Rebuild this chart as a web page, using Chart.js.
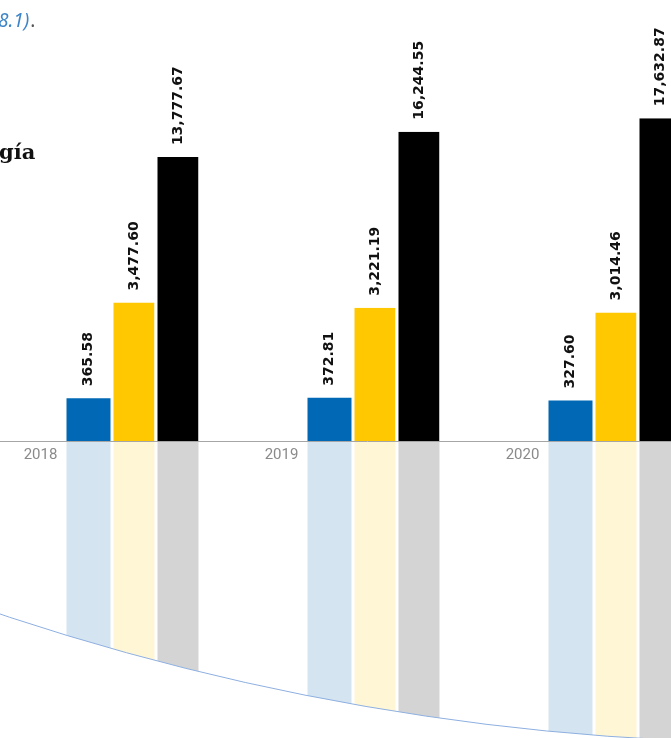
<!DOCTYPE html>
<html>
<head>
<meta charset="utf-8">
<script src="https://cdn.jsdelivr.net/npm/chart.js@4.4.1/dist/chart.umd.min.js"></script>
<style>
  html, body { margin: 0; padding: 0; background: #fff; overflow: hidden; }
  #wrap { position: relative; width: 735px; height: 738px; }
</style>
</head>
<body>
<div id="wrap"><canvas id="c" width="735" height="738"></canvas></div>
<script>
// ---- data ----
const years = ['2018', '2019', '2020'];
const seriesBlue   = [365.58, 372.81, 327.60];
const seriesYellow = [3477.60, 3221.19, 3014.46];
const seriesBlack  = [13777.67, 16244.55, 17632.87];

const barColors = ['#0068B4', '#FFC800', '#000000'];
const reflColors = ['#D5E4F1', '#FFF6D6', '#D4D4D4'];

// power (root) scale so large and small bars both remain visible
class PowerScale extends Chart.LinearScale {
  _f(v) { const e = this.options.exponent || 0.5; return Math.sign(v) * Math.pow(Math.abs(v), e); }
  getPixelForValue(value) {
    const d = (this._f(value) - this._f(this.min)) / (this._f(this.max) - this._f(this.min));
    return this.getPixelForDecimal(d);
  }
  getValueForPixel(pixel) {
    const e = this.options.exponent || 0.5;
    const d = this.getDecimalForPixel(pixel);
    const t = this._f(this.min) + d * (this._f(this.max) - this._f(this.min));
    return Math.sign(t) * Math.pow(Math.abs(t), 1 / e);
  }
}
PowerScale.id = 'power';
PowerScale.defaults = Chart.LinearScale.defaults;
Chart.register(PowerScale);

const fmt = v => v.toLocaleString('en-US', { minimumFractionDigits: 2, maximumFractionDigits: 2 });

// decorative "floor" circle that clips the reflections
const FLOOR = { cx: 791, cy: -1748, r: 2491 };

const decoPlugin = {
  id: 'deco',
  beforeDatasetsDraw(chart) {
    const ctx = chart.ctx;
    const H = chart.height;
    const base = chart.scales.y.getPixelForValue(0);
    ctx.save();
    ctx.beginPath();
    ctx.arc(FLOOR.cx, FLOOR.cy, FLOOR.r, 0, Math.PI * 2);
    ctx.clip();
    chart.data.datasets.forEach((ds, di) => {
      const meta = chart.getDatasetMeta(di);
      const lb = di === 0 ? 0 : 3;
      meta.data.forEach(el => {
        const l = el.x - el.width / 2 + lb;
        const r = el.x + el.width / 2;
        ctx.fillStyle = reflColors[di];
        ctx.fillRect(l, base + 1, r - l, H - base);
      });
    });
    ctx.restore();
    ctx.save();
    ctx.beginPath();
    ctx.arc(FLOOR.cx, FLOOR.cy, FLOOR.r, 0, Math.PI);
    ctx.strokeStyle = '#8DAFE0';
    ctx.lineWidth = 1;
    ctx.stroke();
    ctx.restore();
  },
  afterDatasetsDraw(chart) {
    const ctx = chart.ctx;
    const W = chart.width;
    const base = chart.scales.y.getPixelForValue(0);
    // baseline
    ctx.save();
    ctx.strokeStyle = '#A6A6A6';
    ctx.lineWidth = 1;
    ctx.beginPath();
    ctx.moveTo(0, Math.round(base) + 0.5);
    ctx.lineTo(W, Math.round(base) + 0.5);
    ctx.stroke();
    ctx.restore();
    // value labels
    ctx.save();
    ctx.font = 'bold 14px "DejaVu Sans", sans-serif';
    ctx.fillStyle = '#111';
    ctx.textAlign = 'left';
    ctx.textBaseline = 'middle';
    chart.data.datasets.forEach((ds, di) => {
      const meta = chart.getDatasetMeta(di);
      const lb = di === 0 ? 0 : 3;
      meta.data.forEach((el, i) => {
        const cx = el.x + lb / 2;
        ctx.save();
        ctx.translate(cx, el.y - 12);
        ctx.rotate(-Math.PI / 2);
        ctx.fillText(fmt(ds.data[i]), 0, 0);
        ctx.restore();
      });
    });
    ctx.restore();
    // cropped surrounding text
    ctx.save();
    ctx.textBaseline = 'alphabetic';
    ctx.textAlign = 'left';
    ctx.font = 'italic 19px "Noto Sans", sans-serif';
    ctx.fillStyle = '#3D85C6';
    const t1 = '8.1)';
    ctx.fillText(t1, -2, 27);
    const w1 = ctx.measureText(t1).width;
    ctx.fillStyle = '#555';
    ctx.font = '19px "Noto Sans", sans-serif';
    ctx.fillText('.', -2 + w1 + 1, 27);
    ctx.font = 'bold 21px "DejaVu Serif", serif';
    ctx.fillStyle = '#111';
    ctx.fillText('gía', -1, 159);
    ctx.restore();
  }
};

const noLeft = { left: 0, right: 0, top: 0, bottom: 0 };
const left3 = { left: 3, right: 0, top: 0, bottom: 0 };

new Chart(document.getElementById('c'), {
  type: 'bar',
  data: {
    labels: years,
    datasets: [
      { label: 'A', data: seriesBlue, backgroundColor: barColors[0], borderWidth: noLeft, borderColor: '#fff' },
      { label: 'B', data: seriesYellow, backgroundColor: barColors[1], borderWidth: left3, borderColor: '#fff', borderSkipped: false },
      { label: 'C', data: seriesBlack, backgroundColor: barColors[2], borderWidth: left3, borderColor: '#fff', borderSkipped: false }
    ]
  },
  options: {
    responsive: false,
    animation: false,
    devicePixelRatio: 1,
    layout: { padding: { left: 12, right: 0, top: 0, bottom: 0 } },
    datasets: { bar: { categoryPercentage: 0.5477, barPercentage: 1 } },
    plugins: { legend: { display: false }, tooltip: { enabled: false } },
    scales: {
      x: {
        grid: { display: false, drawTicks: false },
        border: { display: false },
        ticks: {
          color: '#8A8A8A',
          font: { family: '"Roboto", sans-serif', size: 15 },
          padding: 5,
          labelOffset: -92
        },
        afterFit(scale) { scale.height = 297; }
      },
      y: {
        type: 'power',
        exponent: 0.521,
        display: false,
        min: 0,
        max: 32090
      }
    }
  },
  plugins: [decoPlugin]
});
</script>
</body>
</html>
